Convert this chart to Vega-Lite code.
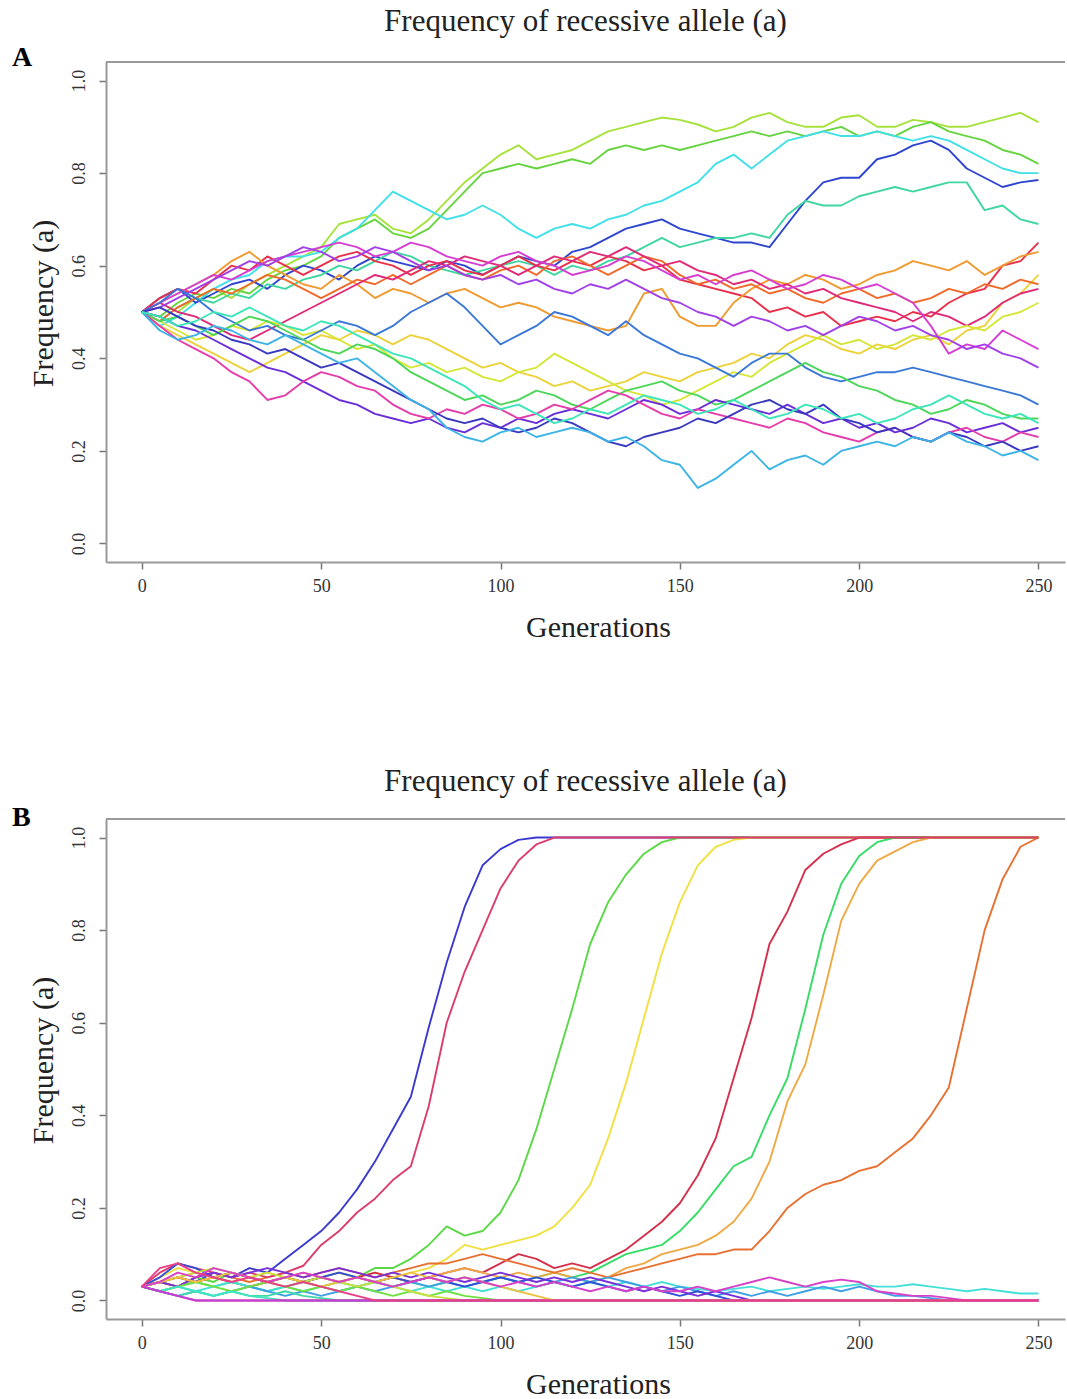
{
"$schema": "https://vega.github.io/schema/vega-lite/v6.json",
"background": "white",
"padding": {"left": 12, "top": 6, "right": 0, "bottom": 0},
"spacing": 124,
"datasets": {
"A": [
{"g":0,"s1":0.5,"s2":0.5,"s3":0.5,"s4":0.5,"s5":0.5,"s6":0.5,"s7":0.5,"s8":0.5,"s9":0.5,"s10":0.5,"s11":0.5,"s12":0.5,"s13":0.5,"s14":0.5,"s15":0.5,"s16":0.5,"s17":0.5,"s18":0.5,"s19":0.5,"s20":0.5},
{"g":5,"s1":0.52,"s2":0.49,"s3":0.47,"s4":0.53,"s5":0.48,"s6":0.53,"s7":0.52,"s8":0.47,"s9":0.48,"s10":0.52,"s11":0.48,"s12":0.52,"s13":0.51,"s14":0.52,"s15":0.48,"s16":0.49,"s17":0.47,"s18":0.51,"s19":0.46,"s20":0.49},
{"g":10,"s1":0.5,"s2":0.52,"s3":0.49,"s4":0.55,"s5":0.51,"s6":0.55,"s7":0.54,"s8":0.45,"s9":0.51,"s10":0.5,"s11":0.46,"s12":0.54,"s13":0.53,"s14":0.55,"s15":0.49,"s16":0.47,"s17":0.44,"s18":0.49,"s19":0.44,"s20":0.47},
{"g":15,"s1":0.53,"s2":0.54,"s3":0.52,"s4":0.52,"s5":0.53,"s6":0.54,"s7":0.56,"s8":0.43,"s9":0.53,"s10":0.49,"s11":0.44,"s12":0.56,"s13":0.55,"s14":0.53,"s15":0.47,"s16":0.46,"s17":0.42,"s18":0.47,"s19":0.45,"s20":0.48},
{"g":20,"s1":0.55,"s2":0.53,"s3":0.55,"s4":0.54,"s5":0.52,"s6":0.57,"s7":0.58,"s8":0.41,"s9":0.55,"s10":0.47,"s11":0.45,"s12":0.58,"s13":0.57,"s14":0.5,"s15":0.45,"s16":0.44,"s17":0.4,"s18":0.46,"s19":0.47,"s20":0.5},
{"g":25,"s1":0.53,"s2":0.55,"s3":0.57,"s4":0.56,"s5":0.54,"s6":0.6,"s7":0.61,"s8":0.39,"s9":0.54,"s10":0.45,"s11":0.47,"s12":0.57,"s13":0.59,"s14":0.48,"s15":0.47,"s16":0.42,"s17":0.37,"s18":0.44,"s19":0.46,"s20":0.49},
{"g":30,"s1":0.56,"s2":0.54,"s3":0.58,"s4":0.57,"s5":0.53,"s6":0.59,"s7":0.63,"s8":0.37,"s9":0.56,"s10":0.44,"s11":0.46,"s12":0.59,"s13":0.61,"s14":0.46,"s15":0.49,"s16":0.4,"s17":0.35,"s18":0.43,"s19":0.44,"s20":0.51},
{"g":35,"s1":0.58,"s2":0.57,"s3":0.61,"s4":0.55,"s5":0.56,"s6":0.62,"s7":0.6,"s8":0.39,"s9":0.58,"s10":0.46,"s11":0.48,"s12":0.61,"s13":0.6,"s14":0.47,"s15":0.48,"s16":0.38,"s17":0.31,"s18":0.41,"s19":0.43,"s20":0.49},
{"g":40,"s1":0.6,"s2":0.59,"s3":0.62,"s4":0.58,"s5":0.55,"s6":0.6,"s7":0.58,"s8":0.41,"s9":0.57,"s10":0.48,"s11":0.47,"s12":0.62,"s13":0.62,"s14":0.45,"s15":0.46,"s16":0.37,"s17":0.32,"s18":0.42,"s19":0.45,"s20":0.47},
{"g":45,"s1":0.62,"s2":0.6,"s3":0.62,"s4":0.6,"s5":0.57,"s6":0.58,"s7":0.56,"s8":0.43,"s9":0.55,"s10":0.5,"s11":0.45,"s12":0.63,"s13":0.64,"s14":0.44,"s15":0.44,"s16":0.35,"s17":0.35,"s18":0.4,"s19":0.43,"s20":0.46},
{"g":50,"s1":0.64,"s2":0.62,"s3":0.63,"s4":0.59,"s5":0.58,"s6":0.6,"s7":0.55,"s8":0.45,"s9":0.53,"s10":0.52,"s11":0.46,"s12":0.64,"s13":0.63,"s14":0.46,"s15":0.42,"s16":0.33,"s17":0.37,"s18":0.38,"s19":0.41,"s20":0.48},
{"g":55,"s1":0.69,"s2":0.66,"s3":0.66,"s4":0.57,"s5":0.6,"s6":0.62,"s7":0.58,"s8":0.44,"s9":0.55,"s10":0.54,"s11":0.44,"s12":0.65,"s13":0.61,"s14":0.48,"s15":0.41,"s16":0.31,"s17":0.36,"s18":0.39,"s19":0.39,"s20":0.47},
{"g":60,"s1":0.7,"s2":0.68,"s3":0.68,"s4":0.6,"s5":0.59,"s6":0.63,"s7":0.56,"s8":0.46,"s9":0.57,"s10":0.56,"s11":0.42,"s12":0.64,"s13":0.62,"s14":0.47,"s15":0.43,"s16":0.3,"s17":0.34,"s18":0.37,"s19":0.4,"s20":0.45},
{"g":65,"s1":0.71,"s2":0.7,"s3":0.72,"s4":0.62,"s5":0.61,"s6":0.61,"s7":0.53,"s8":0.45,"s9":0.56,"s10":0.58,"s11":0.43,"s12":0.62,"s13":0.64,"s14":0.45,"s15":0.42,"s16":0.28,"s17":0.33,"s18":0.35,"s19":0.37,"s20":0.43},
{"g":70,"s1":0.68,"s2":0.67,"s3":0.76,"s4":0.61,"s5":0.63,"s6":0.6,"s7":0.55,"s8":0.43,"s9":0.58,"s10":0.57,"s11":0.4,"s12":0.63,"s13":0.63,"s14":0.47,"s15":0.4,"s16":0.27,"s17":0.3,"s18":0.33,"s19":0.34,"s20":0.41},
{"g":75,"s1":0.67,"s2":0.66,"s3":0.74,"s4":0.6,"s5":0.62,"s6":0.58,"s7":0.54,"s8":0.45,"s9":0.56,"s10":0.59,"s11":0.38,"s12":0.65,"s13":0.61,"s14":0.5,"s15":0.37,"s16":0.26,"s17":0.28,"s18":0.31,"s19":0.31,"s20":0.4},
{"g":80,"s1":0.7,"s2":0.68,"s3":0.72,"s4":0.59,"s5":0.6,"s6":0.6,"s7":0.52,"s8":0.44,"s9":0.58,"s10":0.61,"s11":0.39,"s12":0.64,"s13":0.59,"s14":0.52,"s15":0.35,"s16":0.27,"s17":0.27,"s18":0.29,"s19":0.29,"s20":0.38},
{"g":85,"s1":0.74,"s2":0.72,"s3":0.7,"s4":0.61,"s5":0.59,"s6":0.61,"s7":0.54,"s8":0.42,"s9":0.6,"s10":0.6,"s11":0.37,"s12":0.62,"s13":0.6,"s14":0.54,"s15":0.33,"s16":0.25,"s17":0.29,"s18":0.27,"s19":0.25,"s20":0.36},
{"g":90,"s1":0.78,"s2":0.76,"s3":0.71,"s4":0.6,"s5":0.58,"s6":0.59,"s7":0.55,"s8":0.4,"s9":0.58,"s10":0.62,"s11":0.38,"s12":0.61,"s13":0.58,"s14":0.51,"s15":0.31,"s16":0.24,"s17":0.28,"s18":0.26,"s19":0.23,"s20":0.34},
{"g":95,"s1":0.81,"s2":0.8,"s3":0.73,"s4":0.58,"s5":0.59,"s6":0.58,"s7":0.53,"s8":0.38,"s9":0.57,"s10":0.61,"s11":0.36,"s12":0.6,"s13":0.57,"s14":0.47,"s15":0.32,"s16":0.26,"s17":0.3,"s18":0.27,"s19":0.22,"s20":0.31},
{"g":100,"s1":0.84,"s2":0.81,"s3":0.71,"s4":0.6,"s5":0.6,"s6":0.6,"s7":0.51,"s8":0.39,"s9":0.59,"s10":0.6,"s11":0.35,"s12":0.62,"s13":0.58,"s14":0.43,"s15":0.3,"s16":0.25,"s17":0.29,"s18":0.25,"s19":0.24,"s20":0.29},
{"g":105,"s1":0.86,"s2":0.82,"s3":0.68,"s4":0.62,"s5":0.61,"s6":0.62,"s7":0.52,"s8":0.37,"s9":0.6,"s10":0.58,"s11":0.37,"s12":0.63,"s13":0.56,"s14":0.45,"s15":0.31,"s16":0.27,"s17":0.27,"s18":0.24,"s19":0.25,"s20":0.3},
{"g":110,"s1":0.83,"s2":0.81,"s3":0.66,"s4":0.61,"s5":0.6,"s6":0.6,"s7":0.51,"s8":0.36,"s9":0.58,"s10":0.6,"s11":0.38,"s12":0.61,"s13":0.57,"s14":0.47,"s15":0.33,"s16":0.26,"s17":0.28,"s18":0.25,"s19":0.23,"s20":0.28},
{"g":115,"s1":0.84,"s2":0.82,"s3":0.68,"s4":0.6,"s5":0.58,"s6":0.59,"s7":0.49,"s8":0.34,"s9":0.61,"s10":0.62,"s11":0.41,"s12":0.6,"s13":0.55,"s14":0.5,"s15":0.32,"s16":0.28,"s17":0.3,"s18":0.27,"s19":0.24,"s20":0.26},
{"g":120,"s1":0.85,"s2":0.83,"s3":0.69,"s4":0.63,"s5":0.6,"s6":0.61,"s7":0.48,"s8":0.35,"s9":0.62,"s10":0.61,"s11":0.39,"s12":0.58,"s13":0.54,"s14":0.49,"s15":0.3,"s16":0.29,"s17":0.29,"s18":0.26,"s19":0.25,"s20":0.27},
{"g":125,"s1":0.87,"s2":0.82,"s3":0.68,"s4":0.64,"s5":0.59,"s6":0.6,"s7":0.47,"s8":0.33,"s9":0.6,"s10":0.63,"s11":0.37,"s12":0.59,"s13":0.56,"s14":0.47,"s15":0.29,"s16":0.28,"s17":0.31,"s18":0.24,"s19":0.24,"s20":0.29},
{"g":130,"s1":0.89,"s2":0.85,"s3":0.7,"s4":0.66,"s5":0.61,"s6":0.62,"s7":0.46,"s8":0.34,"s9":0.58,"s10":0.62,"s11":0.35,"s12":0.6,"s13":0.55,"s14":0.45,"s15":0.31,"s16":0.27,"s17":0.33,"s18":0.22,"s19":0.22,"s20":0.28},
{"g":135,"s1":0.9,"s2":0.86,"s3":0.71,"s4":0.68,"s5":0.62,"s6":0.61,"s7":0.47,"s8":0.35,"s9":0.6,"s10":0.64,"s11":0.33,"s12":0.62,"s13":0.57,"s14":0.48,"s15":0.33,"s16":0.29,"s17":0.32,"s18":0.21,"s19":0.23,"s20":0.3},
{"g":140,"s1":0.91,"s2":0.85,"s3":0.73,"s4":0.69,"s5":0.64,"s6":0.59,"s7":0.54,"s8":0.37,"s9":0.62,"s10":0.62,"s11":0.32,"s12":0.61,"s13":0.55,"s14":0.45,"s15":0.34,"s16":0.31,"s17":0.3,"s18":0.23,"s19":0.21,"s20":0.32},
{"g":145,"s1":0.92,"s2":0.86,"s3":0.74,"s4":0.7,"s5":0.66,"s6":0.6,"s7":0.55,"s8":0.36,"s9":0.61,"s10":0.6,"s11":0.3,"s12":0.59,"s13":0.53,"s14":0.43,"s15":0.35,"s16":0.3,"s17":0.28,"s18":0.24,"s19":0.18,"s20":0.31},
{"g":150,"s1":0.915,"s2":0.85,"s3":0.76,"s4":0.68,"s5":0.64,"s6":0.57,"s7":0.49,"s8":0.35,"s9":0.58,"s10":0.61,"s11":0.31,"s12":0.57,"s13":0.52,"s14":0.41,"s15":0.33,"s16":0.28,"s17":0.27,"s18":0.25,"s19":0.17,"s20":0.3},
{"g":155,"s1":0.905,"s2":0.86,"s3":0.78,"s4":0.67,"s5":0.65,"s6":0.56,"s7":0.47,"s8":0.37,"s9":0.56,"s10":0.59,"s11":0.33,"s12":0.58,"s13":0.5,"s14":0.4,"s15":0.32,"s16":0.29,"s17":0.29,"s18":0.27,"s19":0.12,"s20":0.28},
{"g":160,"s1":0.89,"s2":0.87,"s3":0.82,"s4":0.66,"s5":0.66,"s6":0.55,"s7":0.47,"s8":0.38,"s9":0.57,"s10":0.58,"s11":0.35,"s12":0.56,"s13":0.49,"s14":0.38,"s15":0.3,"s16":0.31,"s17":0.28,"s18":0.26,"s19":0.14,"s20":0.29},
{"g":165,"s1":0.9,"s2":0.88,"s3":0.84,"s4":0.65,"s5":0.66,"s6":0.54,"s7":0.52,"s8":0.39,"s9":0.55,"s10":0.56,"s11":0.37,"s12":0.58,"s13":0.47,"s14":0.36,"s15":0.31,"s16":0.3,"s17":0.27,"s18":0.28,"s19":0.17,"s20":0.31},
{"g":170,"s1":0.92,"s2":0.89,"s3":0.81,"s4":0.65,"s5":0.67,"s6":0.53,"s7":0.55,"s8":0.41,"s9":0.56,"s10":0.57,"s11":0.36,"s12":0.59,"s13":0.49,"s14":0.39,"s15":0.33,"s16":0.29,"s17":0.26,"s18":0.3,"s19":0.2,"s20":0.29},
{"g":175,"s1":0.93,"s2":0.88,"s3":0.84,"s4":0.64,"s5":0.66,"s6":0.5,"s7":0.57,"s8":0.4,"s9":0.54,"s10":0.55,"s11":0.39,"s12":0.57,"s13":0.48,"s14":0.41,"s15":0.35,"s16":0.28,"s17":0.25,"s18":0.31,"s19":0.16,"s20":0.27},
{"g":180,"s1":0.91,"s2":0.89,"s3":0.87,"s4":0.69,"s5":0.71,"s6":0.51,"s7":0.56,"s8":0.43,"s9":0.55,"s10":0.56,"s11":0.41,"s12":0.55,"s13":0.46,"s14":0.41,"s15":0.37,"s16":0.3,"s17":0.27,"s18":0.29,"s19":0.18,"s20":0.28},
{"g":185,"s1":0.9,"s2":0.88,"s3":0.88,"s4":0.74,"s5":0.74,"s6":0.49,"s7":0.58,"s8":0.45,"s9":0.53,"s10":0.54,"s11":0.43,"s12":0.56,"s13":0.47,"s14":0.38,"s15":0.39,"s16":0.28,"s17":0.26,"s18":0.28,"s19":0.19,"s20":0.3},
{"g":190,"s1":0.9,"s2":0.89,"s3":0.89,"s4":0.78,"s5":0.73,"s6":0.5,"s7":0.57,"s8":0.44,"s9":0.52,"s10":0.55,"s11":0.45,"s12":0.58,"s13":0.45,"s14":0.36,"s15":0.37,"s16":0.26,"s17":0.24,"s18":0.3,"s19":0.17,"s20":0.29},
{"g":195,"s1":0.92,"s2":0.9,"s3":0.88,"s4":0.79,"s5":0.73,"s6":0.47,"s7":0.55,"s8":0.42,"s9":0.54,"s10":0.53,"s11":0.43,"s12":0.57,"s13":0.47,"s14":0.35,"s15":0.36,"s16":0.27,"s17":0.23,"s18":0.27,"s19":0.2,"s20":0.27},
{"g":200,"s1":0.925,"s2":0.88,"s3":0.88,"s4":0.79,"s5":0.75,"s6":0.48,"s7":0.56,"s8":0.41,"s9":0.55,"s10":0.52,"s11":0.44,"s12":0.55,"s13":0.49,"s14":0.36,"s15":0.34,"s16":0.25,"s17":0.22,"s18":0.26,"s19":0.21,"s20":0.28},
{"g":205,"s1":0.9,"s2":0.89,"s3":0.89,"s4":0.83,"s5":0.76,"s6":0.49,"s7":0.58,"s8":0.43,"s9":0.53,"s10":0.51,"s11":0.42,"s12":0.56,"s13":0.48,"s14":0.37,"s15":0.33,"s16":0.26,"s17":0.24,"s18":0.24,"s19":0.22,"s20":0.26},
{"g":210,"s1":0.9,"s2":0.88,"s3":0.88,"s4":0.84,"s5":0.77,"s6":0.48,"s7":0.59,"s8":0.42,"s9":0.54,"s10":0.5,"s11":0.43,"s12":0.54,"s13":0.46,"s14":0.37,"s15":0.31,"s16":0.24,"s17":0.25,"s18":0.25,"s19":0.21,"s20":0.27},
{"g":215,"s1":0.915,"s2":0.9,"s3":0.87,"s4":0.86,"s5":0.76,"s6":0.5,"s7":0.61,"s8":0.44,"s9":0.52,"s10":0.48,"s11":0.45,"s12":0.52,"s13":0.47,"s14":0.38,"s15":0.3,"s16":0.25,"s17":0.23,"s18":0.23,"s19":0.23,"s20":0.29},
{"g":220,"s1":0.91,"s2":0.91,"s3":0.88,"s4":0.87,"s5":0.77,"s6":0.49,"s7":0.6,"s8":0.45,"s9":0.53,"s10":0.5,"s11":0.44,"s12":0.47,"s13":0.45,"s14":0.37,"s15":0.28,"s16":0.27,"s17":0.22,"s18":0.22,"s19":0.22,"s20":0.3},
{"g":225,"s1":0.9,"s2":0.89,"s3":0.87,"s4":0.85,"s5":0.78,"s6":0.52,"s7":0.59,"s8":0.43,"s9":0.55,"s10":0.49,"s11":0.46,"s12":0.41,"s13":0.44,"s14":0.36,"s15":0.29,"s16":0.26,"s17":0.24,"s18":0.24,"s19":0.24,"s20":0.32},
{"g":230,"s1":0.9,"s2":0.88,"s3":0.85,"s4":0.81,"s5":0.78,"s6":0.54,"s7":0.61,"s8":0.46,"s9":0.54,"s10":0.47,"s11":0.47,"s12":0.43,"s13":0.42,"s14":0.35,"s15":0.31,"s16":0.24,"s17":0.25,"s18":0.23,"s19":0.22,"s20":0.3},
{"g":235,"s1":0.91,"s2":0.87,"s3":0.83,"s4":0.79,"s5":0.72,"s6":0.55,"s7":0.58,"s8":0.47,"s9":0.56,"s10":0.49,"s11":0.46,"s12":0.42,"s13":0.43,"s14":0.34,"s15":0.3,"s16":0.25,"s17":0.23,"s18":0.21,"s19":0.21,"s20":0.28},
{"g":240,"s1":0.92,"s2":0.85,"s3":0.81,"s4":0.77,"s5":0.73,"s6":0.6,"s7":0.6,"s8":0.52,"s9":0.55,"s10":0.52,"s11":0.49,"s12":0.46,"s13":0.41,"s14":0.33,"s15":0.28,"s16":0.26,"s17":0.22,"s18":0.22,"s19":0.19,"s20":0.27},
{"g":245,"s1":0.93,"s2":0.84,"s3":0.8,"s4":0.78,"s5":0.7,"s6":0.61,"s7":0.62,"s8":0.54,"s9":0.57,"s10":0.54,"s11":0.5,"s12":0.44,"s13":0.4,"s14":0.32,"s15":0.27,"s16":0.24,"s17":0.24,"s18":0.2,"s19":0.2,"s20":0.28},
{"g":250,"s1":0.91,"s2":0.82,"s3":0.8,"s4":0.785,"s5":0.69,"s6":0.65,"s7":0.63,"s8":0.58,"s9":0.56,"s10":0.55,"s11":0.52,"s12":0.42,"s13":0.38,"s14":0.3,"s15":0.27,"s16":0.25,"s17":0.23,"s18":0.21,"s19":0.18,"s20":0.26}
],
"B": [
{"g":0,"b1":0.03,"b2":0.03,"b3":0.03,"b4":0.03,"b5":0.03,"b6":0.03,"b7":0.03,"b8":0.03,"b9":0.03,"b10":0.03,"b11":0.03,"b12":0.03,"b13":0.03,"b14":0.03,"b15":0.03,"b16":0.03,"b17":0.03,"b18":0.03,"b19":0.03,"b20":0.03,"b21":0.03},
{"g":5,"b1":0.04,"b2":0.06,"b3":0.04,"b4":0.05,"b5":0.04,"b6":0.02,"b7":0.04,"b8":0.04,"b9":0.04,"b10":0.02,"b11":0.02,"b12":0.05,"b13":0.04,"b14":0.02,"b15":0.02,"b16":0.07,"b17":0.02,"b18":0.04,"b19":0.02,"b20":0.02,"b21":0.04},
{"g":10,"b1":0.05,"b2":0.08,"b3":0.03,"b4":0.07,"b5":0.05,"b6":0.03,"b7":0.05,"b8":0.03,"b9":0.06,"b10":0.03,"b11":0.01,"b12":0.08,"b13":0.03,"b14":0.01,"b15":0.03,"b16":0.08,"b17":0.01,"b18":0.05,"b19":0.03,"b20":0.01,"b21":0.05},
{"g":15,"b1":0.04,"b2":0.07,"b3":0.05,"b4":0.06,"b5":0.04,"b6":0.04,"b7":0.06,"b8":0.05,"b9":0.05,"b10":0.02,"b11":0.02,"b12":0.07,"b13":0.05,"b14":0.02,"b15":0.04,"b16":0.06,"b17":0,"b18":0.06,"b19":0.02,"b20":0,"b21":0.04},
{"g":20,"b1":0.06,"b2":0.06,"b3":0.04,"b4":0.05,"b5":0.05,"b6":0.03,"b7":0.05,"b8":0.06,"b9":0.07,"b10":0.03,"b11":0.01,"b12":0.05,"b13":0.06,"b14":0.01,"b15":0.03,"b16":0.05,"b17":0,"b18":0.07,"b19":0.01,"b20":0,"b21":0.05},
{"g":25,"b1":0.05,"b2":0.05,"b3":0.06,"b4":0.04,"b5":0.04,"b6":0.04,"b7":0.06,"b8":0.05,"b9":0.06,"b10":0.04,"b11":0.02,"b12":0.06,"b13":0.05,"b14":0.02,"b15":0.02,"b16":0.04,"b17":0,"b18":0.06,"b19":0.02,"b20":0,"b21":0.06},
{"g":30,"b1":0.07,"b2":0.06,"b3":0.05,"b4":0.05,"b5":0.03,"b6":0.03,"b7":0.05,"b8":0.04,"b9":0.05,"b10":0.03,"b11":0.03,"b12":0.05,"b13":0.06,"b14":0.01,"b15":0.03,"b16":0.05,"b17":0,"b18":0.05,"b19":0.01,"b20":0,"b21":0.05},
{"g":35,"b1":0.06,"b2":0.05,"b3":0.04,"b4":0.06,"b5":0.04,"b6":0.02,"b7":0.04,"b8":0.05,"b9":0.04,"b10":0.02,"b11":0.02,"b12":0.04,"b13":0.07,"b14":0.01,"b15":0.04,"b16":0.04,"b17":0,"b18":0.06,"b19":0.005,"b20":0,"b21":0.04},
{"g":40,"b1":0.09,"b2":0.06,"b3":0.05,"b4":0.05,"b5":0.05,"b6":0.03,"b7":0.05,"b8":0.06,"b9":0.05,"b10":0.03,"b11":0.01,"b12":0.05,"b13":0.06,"b14":0.02,"b15":0.03,"b16":0.03,"b17":0,"b18":0.05,"b19":0,"b20":0,"b21":0.05},
{"g":45,"b1":0.12,"b2":0.075,"b3":0.04,"b4":0.04,"b5":0.04,"b6":0.04,"b7":0.06,"b8":0.05,"b9":0.06,"b10":0.02,"b11":0.02,"b12":0.04,"b13":0.05,"b14":0.01,"b15":0.02,"b16":0.04,"b17":0,"b18":0.04,"b19":0,"b20":0,"b21":0.04},
{"g":50,"b1":0.15,"b2":0.12,"b3":0.05,"b4":0.05,"b5":0.05,"b6":0.03,"b7":0.05,"b8":0.06,"b9":0.05,"b10":0.03,"b11":0.01,"b12":0.05,"b13":0.06,"b14":0.005,"b15":0.03,"b16":0.03,"b17":0,"b18":0.05,"b19":0,"b20":0,"b21":0.03},
{"g":55,"b1":0.19,"b2":0.15,"b3":0.06,"b4":0.04,"b5":0.04,"b6":0.04,"b7":0.06,"b8":0.07,"b9":0.04,"b10":0.02,"b11":0.02,"b12":0.06,"b13":0.07,"b14":0,"b15":0.02,"b16":0.02,"b17":0,"b18":0.04,"b19":0,"b20":0,"b21":0.04},
{"g":60,"b1":0.24,"b2":0.19,"b3":0.05,"b4":0.05,"b5":0.05,"b6":0.03,"b7":0.05,"b8":0.06,"b9":0.05,"b10":0.03,"b11":0.03,"b12":0.05,"b13":0.06,"b14":0,"b15":0.03,"b16":0.01,"b17":0,"b18":0.03,"b19":0,"b20":0,"b21":0.05},
{"g":65,"b1":0.3,"b2":0.22,"b3":0.07,"b4":0.06,"b5":0.06,"b6":0.04,"b7":0.04,"b8":0.05,"b9":0.04,"b10":0.04,"b11":0.02,"b12":0.04,"b13":0.05,"b14":0,"b15":0.02,"b16":0,"b17":0,"b18":0.04,"b19":0,"b20":0,"b21":0.04},
{"g":70,"b1":0.37,"b2":0.26,"b3":0.07,"b4":0.05,"b5":0.05,"b6":0.03,"b7":0.05,"b8":0.06,"b9":0.03,"b10":0.03,"b11":0.03,"b12":0.05,"b13":0.06,"b14":0,"b15":0.01,"b16":0,"b17":0,"b18":0.03,"b19":0,"b20":0,"b21":0.05},
{"g":75,"b1":0.44,"b2":0.29,"b3":0.09,"b4":0.06,"b5":0.04,"b6":0.04,"b7":0.04,"b8":0.07,"b9":0.04,"b10":0.02,"b11":0.04,"b12":0.04,"b13":0.05,"b14":0,"b15":0.02,"b16":0,"b17":0,"b18":0.02,"b19":0,"b20":0,"b21":0.06},
{"g":80,"b1":0.59,"b2":0.42,"b3":0.12,"b4":0.07,"b5":0.05,"b6":0.03,"b7":0.05,"b8":0.08,"b9":0.05,"b10":0.03,"b11":0.03,"b12":0.05,"b13":0.06,"b14":0,"b15":0.01,"b16":0,"b17":0,"b18":0.01,"b19":0,"b20":0,"b21":0.05},
{"g":85,"b1":0.73,"b2":0.6,"b3":0.16,"b4":0.09,"b5":0.06,"b6":0.04,"b7":0.06,"b8":0.08,"b9":0.04,"b10":0.02,"b11":0.04,"b12":0.04,"b13":0.05,"b14":0,"b15":0.02,"b16":0,"b17":0,"b18":0.005,"b19":0,"b20":0,"b21":0.04},
{"g":90,"b1":0.85,"b2":0.71,"b3":0.14,"b4":0.12,"b5":0.07,"b6":0.05,"b7":0.07,"b8":0.09,"b9":0.05,"b10":0.03,"b11":0.03,"b12":0.03,"b13":0.04,"b14":0,"b15":0.01,"b16":0,"b17":0,"b18":0,"b19":0,"b20":0,"b21":0.05},
{"g":95,"b1":0.94,"b2":0.8,"b3":0.15,"b4":0.11,"b5":0.06,"b6":0.04,"b7":0.06,"b8":0.1,"b9":0.04,"b10":0.02,"b11":0.04,"b12":0.04,"b13":0.05,"b14":0,"b15":0.005,"b16":0,"b17":0,"b18":0,"b19":0,"b20":0,"b21":0.04},
{"g":100,"b1":0.975,"b2":0.89,"b3":0.19,"b4":0.12,"b5":0.08,"b6":0.05,"b7":0.05,"b8":0.09,"b9":0.03,"b10":0.03,"b11":0.05,"b12":0.05,"b13":0.06,"b14":0,"b15":0,"b16":0,"b17":0,"b18":0,"b19":0,"b20":0,"b21":0.03},
{"g":105,"b1":0.995,"b2":0.95,"b3":0.26,"b4":0.13,"b5":0.1,"b6":0.04,"b7":0.06,"b8":0.08,"b9":0.04,"b10":0.02,"b11":0.04,"b12":0.04,"b13":0.05,"b14":0,"b15":0,"b16":0,"b17":0,"b18":0,"b19":0,"b20":0,"b21":0.02},
{"g":110,"b1":1,"b2":0.985,"b3":0.37,"b4":0.14,"b5":0.09,"b6":0.05,"b7":0.05,"b8":0.07,"b9":0.03,"b10":0.03,"b11":0.03,"b12":0.05,"b13":0.04,"b14":0,"b15":0,"b16":0,"b17":0,"b18":0,"b19":0,"b20":0,"b21":0.01},
{"g":115,"b1":1,"b2":1,"b3":0.5,"b4":0.16,"b5":0.07,"b6":0.06,"b7":0.06,"b8":0.06,"b9":0.04,"b10":0.04,"b11":0.04,"b12":0.04,"b13":0.05,"b14":0,"b15":0,"b16":0,"b17":0,"b18":0,"b19":0,"b20":0,"b21":0},
{"g":120,"b1":1,"b2":1,"b3":0.63,"b4":0.2,"b5":0.08,"b6":0.05,"b7":0.05,"b8":0.07,"b9":0.03,"b10":0.03,"b11":0.05,"b12":0.03,"b13":0.04,"b14":0,"b15":0,"b16":0,"b17":0,"b18":0,"b19":0,"b20":0,"b21":0},
{"g":125,"b1":1,"b2":1,"b3":0.77,"b4":0.25,"b5":0.07,"b6":0.06,"b7":0.04,"b8":0.06,"b9":0.02,"b10":0.04,"b11":0.04,"b12":0.04,"b13":0.05,"b14":0,"b15":0,"b16":0,"b17":0,"b18":0,"b19":0,"b20":0,"b21":0},
{"g":130,"b1":1,"b2":1,"b3":0.86,"b4":0.35,"b5":0.09,"b6":0.08,"b7":0.05,"b8":0.05,"b9":0.03,"b10":0.03,"b11":0.05,"b12":0.03,"b13":0.04,"b14":0,"b15":0,"b16":0,"b17":0,"b18":0,"b19":0,"b20":0,"b21":0},
{"g":135,"b1":1,"b2":1,"b3":0.92,"b4":0.47,"b5":0.11,"b6":0.1,"b7":0.07,"b8":0.06,"b9":0.02,"b10":0.04,"b11":0.04,"b12":0.02,"b13":0.03,"b14":0,"b15":0,"b16":0,"b17":0,"b18":0,"b19":0,"b20":0,"b21":0},
{"g":140,"b1":1,"b2":1,"b3":0.965,"b4":0.61,"b5":0.14,"b6":0.11,"b7":0.08,"b8":0.07,"b9":0.03,"b10":0.03,"b11":0.03,"b12":0.03,"b13":0.02,"b14":0,"b15":0,"b16":0,"b17":0,"b18":0,"b19":0,"b20":0,"b21":0},
{"g":145,"b1":1,"b2":1,"b3":0.99,"b4":0.75,"b5":0.17,"b6":0.12,"b7":0.1,"b8":0.08,"b9":0.02,"b10":0.04,"b11":0.02,"b12":0.02,"b13":0.03,"b14":0,"b15":0,"b16":0,"b17":0,"b18":0,"b19":0,"b20":0,"b21":0},
{"g":150,"b1":1,"b2":1,"b3":1,"b4":0.86,"b5":0.21,"b6":0.15,"b7":0.11,"b8":0.09,"b9":0.02,"b10":0.03,"b11":0.03,"b12":0.01,"b13":0.02,"b14":0,"b15":0,"b16":0,"b17":0,"b18":0,"b19":0,"b20":0,"b21":0},
{"g":155,"b1":1,"b2":1,"b3":1,"b4":0.94,"b5":0.27,"b6":0.19,"b7":0.12,"b8":0.1,"b9":0.03,"b10":0.025,"b11":0.02,"b12":0.02,"b13":0.01,"b14":0,"b15":0,"b16":0,"b17":0,"b18":0,"b19":0,"b20":0,"b21":0},
{"g":160,"b1":1,"b2":1,"b3":1,"b4":0.98,"b5":0.35,"b6":0.24,"b7":0.14,"b8":0.1,"b9":0.02,"b10":0.02,"b11":0.01,"b12":0.01,"b13":0.02,"b14":0,"b15":0,"b16":0,"b17":0,"b18":0,"b19":0,"b20":0,"b21":0},
{"g":165,"b1":1,"b2":1,"b3":1,"b4":0.995,"b5":0.48,"b6":0.29,"b7":0.17,"b8":0.11,"b9":0.03,"b10":0.025,"b11":0.02,"b12":0,"b13":0.01,"b14":0,"b15":0,"b16":0,"b17":0,"b18":0,"b19":0,"b20":0,"b21":0},
{"g":170,"b1":1,"b2":1,"b3":1,"b4":1,"b5":0.61,"b6":0.31,"b7":0.22,"b8":0.11,"b9":0.04,"b10":0.03,"b11":0.01,"b12":0,"b13":0,"b14":0,"b15":0,"b16":0,"b17":0,"b18":0,"b19":0,"b20":0,"b21":0},
{"g":175,"b1":1,"b2":1,"b3":1,"b4":1,"b5":0.77,"b6":0.4,"b7":0.3,"b8":0.15,"b9":0.05,"b10":0.02,"b11":0.02,"b12":0,"b13":0,"b14":0,"b15":0,"b16":0,"b17":0,"b18":0,"b19":0,"b20":0,"b21":0},
{"g":180,"b1":1,"b2":1,"b3":1,"b4":1,"b5":0.84,"b6":0.48,"b7":0.43,"b8":0.2,"b9":0.04,"b10":0.025,"b11":0.01,"b12":0,"b13":0,"b14":0,"b15":0,"b16":0,"b17":0,"b18":0,"b19":0,"b20":0,"b21":0},
{"g":185,"b1":1,"b2":1,"b3":1,"b4":1,"b5":0.93,"b6":0.63,"b7":0.51,"b8":0.23,"b9":0.03,"b10":0.03,"b11":0.02,"b12":0,"b13":0,"b14":0,"b15":0,"b16":0,"b17":0,"b18":0,"b19":0,"b20":0,"b21":0},
{"g":190,"b1":1,"b2":1,"b3":1,"b4":1,"b5":0.965,"b6":0.79,"b7":0.66,"b8":0.25,"b9":0.04,"b10":0.025,"b11":0.03,"b12":0,"b13":0,"b14":0,"b15":0,"b16":0,"b17":0,"b18":0,"b19":0,"b20":0,"b21":0},
{"g":195,"b1":1,"b2":1,"b3":1,"b4":1,"b5":0.985,"b6":0.9,"b7":0.82,"b8":0.26,"b9":0.045,"b10":0.03,"b11":0.02,"b12":0,"b13":0,"b14":0,"b15":0,"b16":0,"b17":0,"b18":0,"b19":0,"b20":0,"b21":0},
{"g":200,"b1":1,"b2":1,"b3":1,"b4":1,"b5":1,"b6":0.96,"b7":0.9,"b8":0.28,"b9":0.04,"b10":0.035,"b11":0.03,"b12":0,"b13":0,"b14":0,"b15":0,"b16":0,"b17":0,"b18":0,"b19":0,"b20":0,"b21":0},
{"g":205,"b1":1,"b2":1,"b3":1,"b4":1,"b5":1,"b6":0.99,"b7":0.95,"b8":0.29,"b9":0.02,"b10":0.03,"b11":0.02,"b12":0,"b13":0,"b14":0,"b15":0,"b16":0,"b17":0,"b18":0,"b19":0,"b20":0,"b21":0},
{"g":210,"b1":1,"b2":1,"b3":1,"b4":1,"b5":1,"b6":1,"b7":0.97,"b8":0.32,"b9":0.015,"b10":0.03,"b11":0.01,"b12":0,"b13":0,"b14":0,"b15":0,"b16":0,"b17":0,"b18":0,"b19":0,"b20":0,"b21":0},
{"g":215,"b1":1,"b2":1,"b3":1,"b4":1,"b5":1,"b6":1,"b7":0.99,"b8":0.35,"b9":0.01,"b10":0.035,"b11":0.01,"b12":0,"b13":0,"b14":0,"b15":0,"b16":0,"b17":0,"b18":0,"b19":0,"b20":0,"b21":0},
{"g":220,"b1":1,"b2":1,"b3":1,"b4":1,"b5":1,"b6":1,"b7":1,"b8":0.4,"b9":0.01,"b10":0.03,"b11":0.005,"b12":0,"b13":0,"b14":0,"b15":0,"b16":0,"b17":0,"b18":0,"b19":0,"b20":0,"b21":0},
{"g":225,"b1":1,"b2":1,"b3":1,"b4":1,"b5":1,"b6":1,"b7":1,"b8":0.46,"b9":0.005,"b10":0.025,"b11":0,"b12":0,"b13":0,"b14":0,"b15":0,"b16":0,"b17":0,"b18":0,"b19":0,"b20":0,"b21":0},
{"g":230,"b1":1,"b2":1,"b3":1,"b4":1,"b5":1,"b6":1,"b7":1,"b8":0.63,"b9":0,"b10":0.02,"b11":0,"b12":0,"b13":0,"b14":0,"b15":0,"b16":0,"b17":0,"b18":0,"b19":0,"b20":0,"b21":0},
{"g":235,"b1":1,"b2":1,"b3":1,"b4":1,"b5":1,"b6":1,"b7":1,"b8":0.8,"b9":0,"b10":0.025,"b11":0,"b12":0,"b13":0,"b14":0,"b15":0,"b16":0,"b17":0,"b18":0,"b19":0,"b20":0,"b21":0},
{"g":240,"b1":1,"b2":1,"b3":1,"b4":1,"b5":1,"b6":1,"b7":1,"b8":0.91,"b9":0,"b10":0.02,"b11":0,"b12":0,"b13":0,"b14":0,"b15":0,"b16":0,"b17":0,"b18":0,"b19":0,"b20":0,"b21":0},
{"g":245,"b1":1,"b2":1,"b3":1,"b4":1,"b5":1,"b6":1,"b7":1,"b8":0.98,"b9":0,"b10":0.015,"b11":0,"b12":0,"b13":0,"b14":0,"b15":0,"b16":0,"b17":0,"b18":0,"b19":0,"b20":0,"b21":0},
{"g":250,"b1":1,"b2":1,"b3":1,"b4":1,"b5":1,"b6":1,"b7":1,"b8":1,"b9":0,"b10":0.015,"b11":0,"b12":0,"b13":0,"b14":0,"b15":0,"b16":0,"b17":0,"b18":0,"b19":0,"b20":0,"b21":0}
]
},
"vconcat": [
{
"title": {"text": "Frequency of recessive allele (a)"},
"width": 959,
"height": 500,
"layer": [
{
"data": {"name": "A"},
"transform": [{"fold": ["s1","s2","s3","s4","s5","s6","s7","s8","s9","s10","s11","s12","s13","s14","s15","s16","s17","s18","s19","s20"], "as": ["rep", "freq"]}],
"mark": {"type": "line", "strokeWidth": 1.9, "strokeJoin": "round"},
"encoding": {
"x": {"field": "g", "type": "quantitative", "scale": {"domain": [-10, 257.4], "nice": false, "zero": false}, "axis": {"values": [0,50,100,150,200,250], "format": "d", "title": "Generations"}},
"y": {"field": "freq", "type": "quantitative", "scale": {"domain": [-0.04, 1.04], "nice": false, "zero": false}, "axis": {"values": [0,0.2,0.4,0.6,0.8,1], "format": ".1f", "title": "Frequency (a)"}},
"color": {"field": "rep", "type": "nominal", "legend": null, "scale": {"domain": ["s1","s2","s3","s4","s5","s6","s7","s8","s9","s10","s11","s12","s13","s14","s15","s16","s17","s18","s19","s20"], "range": ["#a6e23c","#66d43f","#3fe0e8","#2f45d0","#3fd6a0","#e8304a","#f09a30","#ecd23a","#f06a2a","#e02a78","#d6e636","#d63ed2","#a040e6","#3a78d8","#4cd65a","#6a2ed8","#e43caa","#3838c0","#3cb4e6","#3ce6b8"]}}
}
},
{
"data": {"values": [{}]},
"mark": {"type": "rule", "stroke": "#999999", "strokeWidth": 2},
"encoding": {"y": {"datum": 1.04}}
},
{
"data": {"values": [{}]},
"mark": {"type": "text", "text": "A", "font": "Liberation Serif", "fontSize": 28, "fontWeight": "bold", "align": "left", "baseline": "alphabetic", "dx": -94, "dy": 4, "color": "#000000"},
"encoding": {"x": {"datum": -10}, "y": {"datum": 1.04}}
}
]
},
{
"title": {"text": "Frequency of recessive allele (a)"},
"width": 959,
"height": 500,
"layer": [
{
"data": {"name": "B"},
"transform": [{"fold": ["b1","b3","b4","b5","b6","b7","b8","b2","b10","b11","b12","b13","b14","b15","b18","b19","b20","b21","b17","b9","b16"], "as": ["rep", "freq"]}],
"mark": {"type": "line", "strokeWidth": 1.9, "strokeJoin": "round"},
"encoding": {
"x": {"field": "g", "type": "quantitative", "scale": {"domain": [-10, 257.4], "nice": false, "zero": false}, "axis": {"values": [0,50,100,150,200,250], "format": "d", "title": "Generations"}},
"y": {"field": "freq", "type": "quantitative", "scale": {"domain": [-0.04, 1.04], "nice": false, "zero": false}, "axis": {"values": [0,0.2,0.4,0.6,0.8,1], "format": ".1f", "title": "Frequency (a)"}},
"color": {"field": "rep", "type": "nominal", "legend": null, "scale": {"domain": ["b1","b2","b3","b4","b5","b6","b7","b8","b9","b10","b11","b12","b13","b14","b15","b16","b17","b18","b19","b20","b21"], "range": ["#3a3ad0","#dc3c6c","#5ad846","#f0e040","#d4304c","#36dc66","#f0a844","#e87030","#d840c8","#44e0d8","#40a0e6","#3050d8","#7a30d8","#40d8a8","#70e040","#e84088","#c040e0","#c8e040","#40e6c0","#e83060","#f0c040"]}}
}
},
{
"data": {"values": [{}]},
"mark": {"type": "rule", "stroke": "#999999", "strokeWidth": 2},
"encoding": {"y": {"datum": 1.04}}
},
{
"data": {"values": [{}]},
"mark": {"type": "text", "text": "B", "font": "Liberation Serif", "fontSize": 28, "fontWeight": "bold", "align": "left", "baseline": "alphabetic", "dx": -94, "dy": 7, "color": "#000000"},
"encoding": {"x": {"datum": -10}, "y": {"datum": 1.04}}
}
]
}
],
"resolve": {"scale": {"color": "independent"}},
"config": {
"view": {"stroke": null},
"font": "Liberation Serif",
"title": {"font": "Liberation Serif", "fontSize": 31, "fontWeight": "normal", "color": "#222222", "offset": 6, "baseline": "alphabetic", "anchor": "middle", "frame": "group"},
"axis": {"labelFont": "Liberation Serif", "labelFontSize": 18, "labelColor": "#333333", "tickColor": "#777777", "tickSize": 7, "tickWidth": 1.5, "domainColor": "#999999", "domainWidth": 2, "grid": false, "titleFont": "Liberation Serif", "titleFontSize": 30, "titleFontWeight": "normal", "titleColor": "#222222", "labelFlush": false, "labelOverlap": false},
"axisX": {"labelPadding": 8, "titleX": 492, "titleY": 74, "titleBaseline": "alphabetic", "titleAlign": "center"},
"axisY": {"labelAngle": 270, "labelAlign": "center", "labelBaseline": "bottom", "labelPadding": 11, "titleX": -63, "titleY": 241, "titleAngle": 270, "titleAlign": "center", "titleBaseline": "middle"}
}
}
